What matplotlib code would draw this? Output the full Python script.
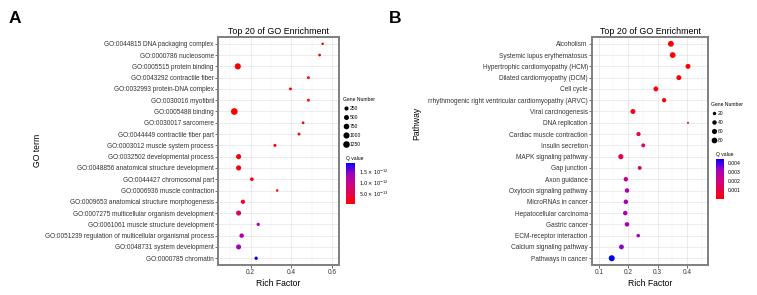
import matplotlib.pyplot as plt
import numpy as np
from matplotlib.colors import LinearSegmentedColormap
from matplotlib.lines import Line2D

plt.rcParams['font.family'] = ['Liberation Sans', 'DejaVu Sans']

# ---- panel A: GO terms (top to bottom) ----
go_terms = [
    'GO:0044815 DNA packaging complex',
    'GO:0000786 nucleosome',
    'GO:0005515 protein binding',
    'GO:0043292 contractile fiber',
    'GO:0032993 protein-DNA complex',
    'GO:0030016 myofibril',
    'GO:0005488 binding',
    'GO:0030017 sarcomere',
    'GO:0044449 contractile fiber part',
    'GO:0003012 muscle system process',
    'GO:0032502 developmental process',
    'GO:0048856 anatomical structure development',
    'GO:0044427 chromosomal part',
    'GO:0006936 muscle contraction',
    'GO:0009653 anatomical structure morphogenesis',
    'GO:0007275 multicellular organism development',
    'GO:0061061 muscle structure development',
    'GO:0051239 regulation of multicellular organismal process',
    'GO:0048731 system development',
    'GO:0000785 chromatin',
]
go_rich = [0.553, 0.538, 0.137, 0.483, 0.395, 0.483, 0.120, 0.457, 0.437, 0.319,
           0.141, 0.141, 0.206, 0.330, 0.162, 0.141, 0.237, 0.156, 0.141, 0.227]
go_genes = [60, 65, 1000, 70, 70, 70, 1300, 65, 70, 80,
            550, 550, 150, 60, 280, 520, 100, 330, 520, 110]
go_q = [0.0, 0.0, 0.02, 0.0, 0.0, 0.0, 0.0, 0.0, 0.0, 0.0,
        0.05, 0.08, 0.03, 0.0, 0.25, 0.6, 1.3, 1.25, 1.3, 1.9]  # x 1e-12
go_size_legend = [250, 500, 750, 1000, 1250]

# ---- panel B: KEGG pathways (top to bottom) ----
pathways = [
    'Alcoholism',
    'Systemic lupus erythematosus',
    'Hypertrophic cardiomyopathy (HCM)',
    'Dilated cardiomyopathy (DCM)',
    'Cell cycle',
    'rrhythmogenic right ventricular cardiomyopathy (ARVC)',
    'Viral carcinogenesis',
    'DNA replication',
    'Cardiac muscle contraction',
    'Insulin secretion',
    'MAPK signaling pathway',
    'Gap junction',
    'Axon guidance',
    'Oxytocin signaling pathway',
    'MicroRNAs in cancer',
    'Hepatocellular carcinoma',
    'Gastric cancer',
    'ECM-receptor interaction',
    'Calcium signaling pathway',
    'Pathways in cancer',
]
kegg_rich = [0.345, 0.351, 0.403, 0.372, 0.294, 0.322, 0.216, 0.403, 0.235, 0.251,
             0.175, 0.239, 0.192, 0.196, 0.192, 0.190, 0.196, 0.234, 0.177, 0.144]
kegg_genes = [85, 82, 55, 55, 52, 38, 55, 10, 35, 28,
              62, 28, 42, 42, 42, 42, 42, 22, 50, 92]
kegg_q = [0.0, 0.0, 0.0, 0.0, 0.1, 0.2, 0.3, 0.3, 1.3, 1.5,
          1.3, 1.6, 2.3, 2.9, 2.9, 2.9, 3.0, 3.1, 3.4, 4.4]  # x 1e-3
kegg_size_legend = [20, 40, 60, 80]

# ggplot-like red -> blue gradient (Lab interpolated)
cmap = LinearSegmentedColormap.from_list(
    'rb', ['#FF0000', '#E8004F', '#CA0089', '#9A00C3', '#0000FF'])


def dot_diam(n, lo, hi, dmin, dmax):
    # diameter in points, area style scaling like ggplot scale_size
    n = np.clip(np.asarray(n, dtype=float), lo, hi)
    return (dmin + (dmax - dmin) * np.sqrt((n - lo) / (hi - lo))) * 0.72


def draw_panel(rect, labels, rich, genes, q, vmax, size_args, xlim, xmajor, xminor):
    ax = fig.add_axes(rect)
    ypos = np.arange(len(labels))[::-1]
    sc = ax.scatter(rich, ypos, s=dot_diam(genes, *size_args) ** 2, c=q,
                    cmap=cmap, vmin=0, vmax=vmax, linewidths=0, zorder=3)
    ax.set_xlim(xlim)
    ax.set_ylim(-0.6, len(labels) - 0.4)
    ax.set_yticks(ypos)
    ax.set_yticklabels(labels)
    ax.set_xticks(xmajor)
    ax.set_xticks(xminor, minor=True)
    ax.grid(which='major', color='#E5E5E5', lw=0.5)
    ax.grid(which='minor', axis='x', color='#F0F0F0', lw=0.35)
    ax.set_axisbelow(True)
    for s in ax.spines.values():
        s.set_color('#7F7F7F')
        s.set_linewidth(1.4)
    ax.tick_params(which='major', length=2, width=0.5, color='#333333',
                   labelcolor='#333333', labelsize=4.7, pad=1)
    ax.tick_params(which='minor', length=0)
    ax.set_title('Top 20 of GO Enrichment', fontsize=6.4, pad=2.5)
    ax.set_xlabel('Rich Factor', fontsize=6.2, labelpad=2)
    return ax, sc


fig = plt.figure(figsize=(7.57, 2.95), dpi=100)
W, H = 757, 295

axA, scA = draw_panel([218 / W, 30 / H, 121 / W, 228 / H], go_terms, go_rich, go_genes,
                      np.array(go_q) * 1e-12, 1.9e-12, (60, 1300, 2.5, 6.7),
                      (0.04, 0.633), [0.2, 0.4, 0.6], [0.1, 0.3, 0.5])
axB, scB = draw_panel([592 / W, 30 / H, 116 / W, 228 / H], pathways, kegg_rich, kegg_genes,
                      np.array(kegg_q) * 1e-3, 0.0044, (10, 92, 2.0, 6.0),
                      (0.077, 0.471), [0.1, 0.2, 0.3, 0.4], [0.15, 0.25, 0.35, 0.45])

# axis titles and panel letters
fig.text(38 / W, 1 - 150 / H, 'GO term', rotation=90, fontsize=6.2, ha='center', va='center')
fig.text(417 / W, 1 - 123 / H, 'Pathway', rotation=90, fontsize=6.2, ha='center', va='center')
fig.text(9 / W, 1 - 23 / H, 'A', fontsize=12.5, fontweight='bold', va='baseline')
fig.text(389 / W, 1 - 23 / H, 'B', fontsize=12.5, fontweight='bold', va='baseline')


# size legends
def size_legend(values, size_args, anchor):
    handles = [Line2D([], [], marker='o', ls='', color='black', markeredgewidth=0,
                      markersize=float(dot_diam(v, *size_args))) for v in values]
    leg = fig.legend(handles, [str(v) for v in values], title='Gene Number',
                     loc='upper left', bbox_to_anchor=anchor, frameon=False,
                     fontsize=3.6, title_fontsize=3.6, labelspacing=0.8,
                     handletextpad=0.2, handlelength=1.2, borderaxespad=0,
                     borderpad=0, alignment='left')
    return leg


size_legend(go_size_legend, (60, 1300, 2.5, 6.7), (343 / W, 1 - 97 / H))
size_legend(kegg_size_legend, (10, 92, 2.0, 6.0), (711 / W, 1 - 102 / H))

# colour bars
caxA = fig.add_axes([346 / W, 1 - 204 / H, 9 / W, 41 / H])
cbA = fig.colorbar(scA, cax=caxA)
cbA.outline.set_visible(False)
cbA.set_ticks([5e-13, 1e-12, 1.5e-12])
cbA.set_ticklabels([r'$5.0\times10^{-13}$', r'$1.0\times10^{-12}$', r'$1.5\times10^{-12}$'])
caxA.tick_params(length=1.5, width=0.4, color='white', labelsize=3.6, pad=1.5)
caxA.set_title('Q value', fontsize=3.6, loc='left', pad=2)

caxB = fig.add_axes([716 / W, 1 - 199 / H, 8 / W, 40 / H])
cbB = fig.colorbar(scB, cax=caxB)
cbB.outline.set_visible(False)
cbB.set_ticks([0.001, 0.002, 0.003, 0.004])
cbB.set_ticklabels(['0.001', '0.002', '0.003', '0.004'])
caxB.tick_params(length=1.5, width=0.4, color='white', labelsize=3.6, pad=1.5)
caxB.set_title('Q value', fontsize=3.6, loc='left', pad=2)

fig.savefig('out.png', dpi=100)
